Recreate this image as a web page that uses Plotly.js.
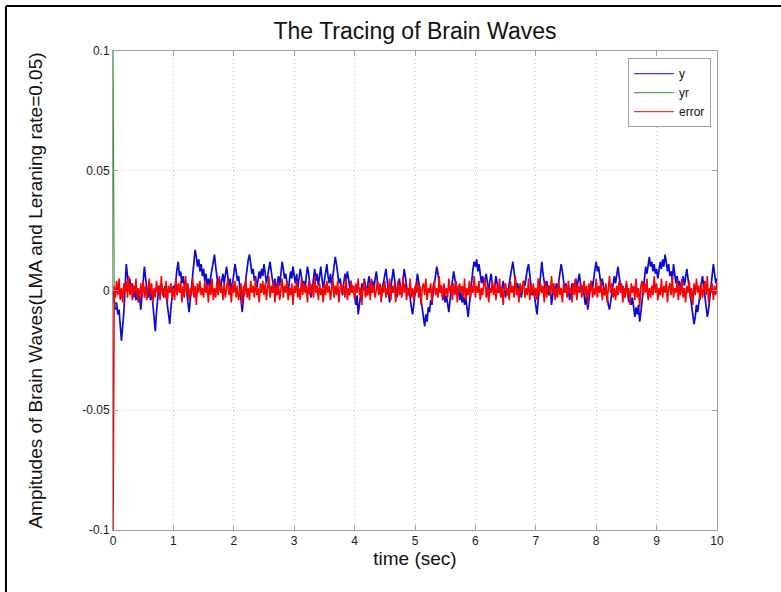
<!DOCTYPE html>
<html>
<head>
<meta charset="utf-8">
<script src="https://cdn.plot.ly/plotly-3.0.1.min.js"></script>
<style>
html,body{margin:0;padding:0;background:#fff;overflow:hidden;}
#chart{width:781px;height:592px;}
</style>
</head>
<body>
<div id="chart"></div>
<script>
// sampling of the traces (seconds)
var t0 = 0;
var dt = 0.02;

// y : tracked brain wave (blue), one value every 0.02 s from 0 to 10 s
var yValues = [
 0,-.005,-.008,-.005,-.010,-.008,-.014,-.021,-.015,-.009,.001,.011,.006,.002,.005,-.001,.003,-.003,.001,-.004,0,-.005,-.002,-.008,-.002,
 .004,.010,.005,.001,-.003,.002,-.004,0,-.006,-.010,-.017,-.009,-.003,.002,-.001,.003,0,-.003,.002,-.002,-.006,-.010,-.014,-.007,-.002,
 .002,-.001,.005,.009,.012,.006,.008,.003,.006,.002,.004,-.002,-.005,-.009,-.004,.003,.008,.013,.017,.014,.010,.013,.008,.011,.006,
 .009,.004,.007,.002,.005,.001,.006,.009,.012,.015,.010,.006,.002,.005,0,.004,.007,.003,.008,.010,.006,.002,.005,-.001,.003,
 .007,.011,.008,.004,.006,.001,-.004,-.009,-.003,.002,.006,.009,.013,.015,.011,.007,.009,.004,.006,.001,.004,.008,.005,.009,.006,
 .011,.007,.003,.006,.009,.012,.008,.004,.001,.005,-.002,.003,.006,.002,.008,.012,.009,.005,.007,.002,-.001,.004,.008,.005,.010,
 .006,.003,.007,.001,.005,.009,.006,.002,.004,0,.006,.010,.007,.003,-.003,.001,.005,.009,.004,.007,.002,.006,.010,.005,.001,
 .004,.008,.011,.006,.003,.007,.002,.006,.010,.014,.011,.007,.003,.005,.001,-.002,.003,.007,.004,.008,.005,.001,.004,-.001,.002,
 -.003,-.006,-.002,-.010,-.006,-.001,.003,0,.005,.002,-.002,.003,.006,.002,-.001,.004,0,.005,.008,.003,-.001,.002,-.003,.001,.004,
 .007,.009,.004,0,-.005,.001,.005,.009,.005,.001,-.003,.002,.005,.001,-.002,.003,.009,.006,.002,-.002,.001,-.004,-.007,-.010,-.005,
 -.001,.003,.007,.004,0,-.005,-.009,-.012,-.015,-.010,-.013,-.007,-.009,-.004,-.006,-.001,.003,.006,.010,.007,.003,-.001,.002,-.004,-.001,
 -.005,-.002,-.006,-.009,-.004,.001,.004,.008,.005,.001,-.002,.002,-.004,-.001,-.005,-.002,-.006,-.003,-.008,-.011,-.006,0,.005,.009,.012,
 .010,.013,.008,.011,.007,.003,.006,.002,.005,.007,.003,0,.004,.007,.003,-.001,.002,.006,.003,-.001,.002,-.002,.001,.004,0,
 -.003,.001,-.002,.003,.006,.009,.012,.008,.004,.001,.003,-.001,.002,-.003,.001,.004,.002,.006,.009,.011,.006,.002,-.002,.001,-.003,
 -.006,-.010,-.004,.002,.008,.012,.007,.003,0,.004,.001,-.002,.002,-.006,-.002,.002,-.001,.003,0,.004,.007,.011,.008,.004,0,
 .003,-.002,.001,-.004,0,.003,-.001,.002,.005,.001,.004,.007,.003,-.001,.002,-.003,-.006,-.002,-.008,-.004,0,.004,.001,.006,.009,
 .012,.008,.010,.005,.002,.005,.001,-.002,.002,-.003,-.006,-.008,-.004,0,.003,.006,.003,.007,.010,.006,.002,-.001,.002,-.003,0,
 .003,-.001,-.005,-.002,-.006,-.003,-.008,-.011,-.007,-.010,-.006,-.013,-.009,-.004,.001,.006,.010,.007,.011,.014,.010,.012,.008,.011,.007,
 .009,.005,.008,.012,.009,.013,.010,.015,.012,.008,.011,.006,.008,.004,.011,.007,.003,.006,.001,.004,0,.003,.006,.002,.005,
 .009,.005,.001,-.003,-.007,-.010,-.014,-.011,-.006,-.009,-.004,0,.003,.006,.002,-.002,-.006,-.011,-.008,-.003,.002,.006,.011,.007,.003,.005
];

// yr : reference signal (green), visible only at the start
var yrValues = [0.1, -.004, -.007, -.006];

// error (red), one value every 0.02 s from 0 to 10 s
var errValues = [
 -0.1,.002,-.003,.004,-.002,.005,-.004,.001,-.005,.003,-.001,.004,-.003,.006,-.002,.003,-.004,.002,-.001,.005,-.003,.001,-.005,.003,-.002,
 .004,-.003,.002,-.004,.001,.005,-.002,.003,-.005,.001,-.003,.004,-.001,.002,-.004,.006,-.002,.001,-.003,.004,-.005,.002,-.001,.003,-.003,
 .001,-.004,.005,-.002,.003,-.001,.004,-.005,.002,-.003,.006,-.001,.003,-.004,.001,-.002,.005,-.003,.002,-.006,.003,-.001,.004,-.002,.001,
 -.003,.004,-.001,.002,-.005,.003,-.002,.005,-.004,.001,-.003,.004,-.002,.006,-.001,.002,-.004,.003,-.003,.001,.005,-.002,.002,-.005,.003,
 -.001,.004,-.003,.002,-.004,.001,.003,-.006,.002,-.002,.005,-.003,.001,-.004,.004,-.001,.002,-.003,.005,-.002,.001,-.005,.003,-.001,.004,
 -.002,.003,-.004,.001,.006,-.003,.002,-.001,.004,-.005,.002,-.002,.003,-.004,.001,.005,-.003,.002,-.001,.004,-.004,.001,-.002,.003,-.006,
 .002,-.001,.004,-.003,.001,-.004,.005,-.002,.003,-.001,.002,-.005,.004,-.002,.001,.003,-.003,.006,-.001,.002,-.004,.003,-.002,.001,-.005,
 .003,-.002,.004,-.001,.002,-.004,.001,.005,-.003,.002,-.002,.004,-.005,.001,.003,-.001,.002,-.003,.005,-.004,.001,-.002,.004,-.001,.002,
 -.004,.003,-.001,.005,-.002,.001,-.006,.002,.004,-.003,.001,-.002,.003,-.004,.005,-.001,.002,-.003,.001,.004,-.002,.003,-.005,.002,-.001,
 .004,-.003,.001,-.002,.005,-.004,.002,-.001,.003,-.005,.001,.004,-.002,.002,-.003,.006,-.001,.003,-.004,.001,-.002,.005,-.003,.001,-.004,
 .002,-.001,.004,-.003,.002,-.006,.001,.003,-.002,.005,-.004,.001,-.001,.003,-.005,.002,.004,-.002,.001,-.003,.006,-.001,.002,-.004,.003,
 -.002,.001,-.003,.005,-.001,.002,-.004,.003,-.002,.004,-.005,.001,.003,-.001,.002,-.003,.005,-.004,.001,-.002,.004,-.003,.002,-.001,.006,
 -.003,.002,-.001,.004,-.004,.001,-.002,.003,.005,-.003,.002,-.005,.001,-.001,.004,-.002,.003,-.004,.002,-.001,.005,-.003,.001,-.006,.002,
 .003,-.002,.001,-.004,.004,-.001,.002,-.003,.006,-.002,.001,-.005,.003,-.001,.002,.004,-.003,.001,-.002,.005,-.004,.002,-.001,.003,-.003,
 .001,-.004,.005,-.002,.003,-.001,.002,-.005,.004,-.003,.001,.002,-.002,.006,-.001,.003,-.004,.001,-.003,.004,-.002,.001,-.005,.003,-.001,
 .002,-.003,.004,-.001,.001,-.005,.003,-.002,.005,-.004,.002,-.001,.003,-.003,.001,.004,-.002,.002,-.006,.003,-.001,.004,-.003,.001,-.002,
 .005,-.003,.002,-.001,.004,-.004,.001,-.002,.003,-.005,.002,.006,-.001,.003,-.003,.001,-.004,.002,-.002,.004,-.001,.003,-.005,.001,-.003,
 .004,-.002,.001,-.006,.003,-.001,.002,-.004,.005,-.003,.001,-.007,.002,.004,-.002,.003,-.001,.005,-.004,.001,-.003,.002,-.002,.006,-.001,
 .003,-.004,.001,-.002,.005,-.003,.002,-.001,.004,-.005,.001,.003,-.002,.006,-.003,.001,-.001,.004,-.004,.002,-.002,.005,-.003,.001,-.005,
 .002,-.001,.004,-.003,.001,-.006,.003,-.002,.005,-.001,.002,-.004,.003,-.003,.001,.004,-.002,.006,-.005,.001,-.001,.003,-.004,.002,-.002,.004
];

// series names and colours
var seriesNames = ['y', 'yr', 'error'];
var seriesColors = ['#0a0ad8', '#2e9a2e', '#ff0000'];

// axis ticks
var xTicks = [0,1,2,3,4,5,6,7,8,9,10];
var yTickVals = [-0.1,-0.05,0,0.05,0.1];
var yTickText = ['-0.1','-0.05','0','0.05','0.1'];

var FONT = 'Arial, "Liberation Sans", Helvetica, sans-serif';

var traces = [
  {type:'scatter', mode:'lines', name:seriesNames[0], x0:t0, dx:dt, y:yValues,
   line:{color:seriesColors[0], width:1.7}, showlegend:false},
  {type:'scatter', mode:'lines', name:seriesNames[1], x0:t0, dx:dt, y:yrValues,
   line:{color:seriesColors[1], width:1.2}, showlegend:false},
  {type:'scatter', mode:'lines', name:seriesNames[2], x0:t0, dx:dt, y:errValues,
   line:{color:seriesColors[2], width:1.6}, showlegend:false}
];
// thin legend keys (no data of their own)
seriesNames.forEach(function(n, i){
  traces.push({type:'scatter', mode:'lines', name:n, x:[null], y:[null],
    line:{color:seriesColors[i], width:1}, showlegend:true, hoverinfo:'skip'});
});

var axisCommon = {
  showline:true, linecolor:'#a0a0a0', linewidth:1, mirror:'ticks',
  ticks:'inside', ticklen:5, tickcolor:'#a0a0a0', tickwidth:1,
  showgrid:true, gridcolor:'#c8c8c8', griddash:'1px,3px', gridwidth:1,
  zeroline:false, tickfont:{family:FONT, size:12, color:'#1a1a1a'}
};

var layout = {
  width:781, height:592,
  margin:{l:113, r:64, t:51, b:62, pad:0},
  paper_bgcolor:'#ffffff', plot_bgcolor:'#ffffff',
  font:{family:FONT, color:'#111'},
  title:{text:'The Tracing of Brain Waves', font:{family:FONT, size:23, color:'#111'},
         x:0.5, xref:'paper', y:1-31/592, yref:'container', yanchor:'middle'},
  xaxis:Object.assign({}, axisCommon, {
    range:[0,10], tickmode:'array', tickvals:xTicks,
    title:{text:'time (sec)', font:{family:FONT, size:19, color:'#111'}, standoff:4}
  }),
  yaxis:Object.assign({}, axisCommon, {
    range:[-0.1,0.1], tickmode:'array', tickvals:yTickVals, ticktext:yTickText,
    title:{text:'Ampitudes of Brain Waves(LMA and Leraning rate=0.05)', font:{family:FONT, size:19, color:'#111'}, standoff:34}
  }),
  showlegend:true,
  legend:{x:0.990, xanchor:'right', y:0.985, yanchor:'top',
          bgcolor:'#ffffff', bordercolor:'#a0a0a0', borderwidth:1,
          font:{family:FONT, size:12, color:'#111'}, itemwidth:40,
          tracegroupgap:0},
  // outer picture frame (top and left edges)
  shapes:[
    {type:'line', xref:'paper', yref:'paper', x0:-0.1772, x1:-0.1772, y0:-0.2, y1:1.0939,
     line:{color:'#000', width:2}},
    {type:'line', xref:'paper', yref:'paper', x0:-0.1772, x1:1.2, y0:1.0939, y1:1.0939,
     line:{color:'#000', width:2}}
  ]
};

Plotly.newPlot('chart', traces, layout, {displayModeBar:false, staticPlot:true});
</script>
</body>
</html>
